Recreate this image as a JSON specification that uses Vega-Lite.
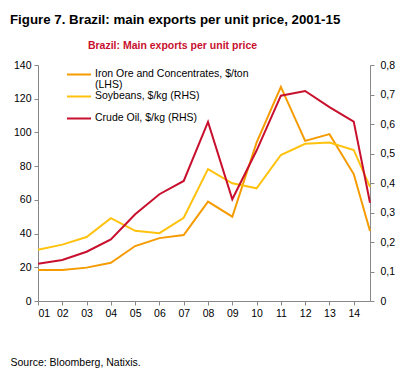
{
  "$schema": "https://vega.github.io/schema/vega-lite/v6.json",
  "width": 332,
  "height": 236,
  "autosize": {"type": "none"},
  "padding": {"left": 38, "top": 65, "right": 40, "bottom": 74},
  "background": "white",
  "config": {"view": {"stroke": null}, "font": "Liberation Sans"},
  "title": {
    "text": "Figure 7. Brazil: main exports per unit price, 2001-15",
    "anchor": "start",
    "frame": "group",
    "dx": -28,
    "fontSize": 13.3,
    "fontWeight": "bold",
    "color": "#000000",
    "offset": 14
  },
  "data": {
    "values": [
      {"year": 1, "series": "Iron Ore and Concentrates, $/ton", "value": 18.4},
      {"year": 2, "series": "Iron Ore and Concentrates, $/ton", "value": 18.4},
      {"year": 3, "series": "Iron Ore and Concentrates, $/ton", "value": 19.8},
      {"year": 4, "series": "Iron Ore and Concentrates, $/ton", "value": 22.7},
      {"year": 5, "series": "Iron Ore and Concentrates, $/ton", "value": 32.6},
      {"year": 6, "series": "Iron Ore and Concentrates, $/ton", "value": 37.3},
      {"year": 7, "series": "Iron Ore and Concentrates, $/ton", "value": 39.1},
      {"year": 8, "series": "Iron Ore and Concentrates, $/ton", "value": 58.9},
      {"year": 9, "series": "Iron Ore and Concentrates, $/ton", "value": 50},
      {"year": 10, "series": "Iron Ore and Concentrates, $/ton", "value": 94},
      {"year": 11, "series": "Iron Ore and Concentrates, $/ton", "value": 127},
      {"year": 12, "series": "Iron Ore and Concentrates, $/ton", "value": 95},
      {"year": 13, "series": "Iron Ore and Concentrates, $/ton", "value": 99},
      {"year": 14, "series": "Iron Ore and Concentrates, $/ton", "value": 75.3},
      {"year": 14.67, "series": "Iron Ore and Concentrates, $/ton", "value": 41.5},
      {"year": 1, "series": "Soybeans, $/kg (RHS)", "value": 0.174},
      {"year": 2, "series": "Soybeans, $/kg (RHS)", "value": 0.191},
      {"year": 3, "series": "Soybeans, $/kg (RHS)", "value": 0.217},
      {"year": 4, "series": "Soybeans, $/kg (RHS)", "value": 0.281},
      {"year": 5, "series": "Soybeans, $/kg (RHS)", "value": 0.238},
      {"year": 6, "series": "Soybeans, $/kg (RHS)", "value": 0.23},
      {"year": 7, "series": "Soybeans, $/kg (RHS)", "value": 0.282},
      {"year": 8, "series": "Soybeans, $/kg (RHS)", "value": 0.447},
      {"year": 9, "series": "Soybeans, $/kg (RHS)", "value": 0.399},
      {"year": 10, "series": "Soybeans, $/kg (RHS)", "value": 0.382},
      {"year": 11, "series": "Soybeans, $/kg (RHS)", "value": 0.495},
      {"year": 12, "series": "Soybeans, $/kg (RHS)", "value": 0.533},
      {"year": 13, "series": "Soybeans, $/kg (RHS)", "value": 0.537},
      {"year": 14, "series": "Soybeans, $/kg (RHS)", "value": 0.512},
      {"year": 14.67, "series": "Soybeans, $/kg (RHS)", "value": 0.387},
      {"year": 1, "series": "Crude Oil, $/kg (RHS)", "value": 0.126},
      {"year": 2, "series": "Crude Oil, $/kg (RHS)", "value": 0.139},
      {"year": 3, "series": "Crude Oil, $/kg (RHS)", "value": 0.167},
      {"year": 4, "series": "Crude Oil, $/kg (RHS)", "value": 0.209},
      {"year": 5, "series": "Crude Oil, $/kg (RHS)", "value": 0.294},
      {"year": 6, "series": "Crude Oil, $/kg (RHS)", "value": 0.362},
      {"year": 7, "series": "Crude Oil, $/kg (RHS)", "value": 0.407},
      {"year": 8, "series": "Crude Oil, $/kg (RHS)", "value": 0.607},
      {"year": 9, "series": "Crude Oil, $/kg (RHS)", "value": 0.345},
      {"year": 10, "series": "Crude Oil, $/kg (RHS)", "value": 0.51},
      {"year": 11, "series": "Crude Oil, $/kg (RHS)", "value": 0.696},
      {"year": 12, "series": "Crude Oil, $/kg (RHS)", "value": 0.712},
      {"year": 13, "series": "Crude Oil, $/kg (RHS)", "value": 0.657},
      {"year": 14, "series": "Crude Oil, $/kg (RHS)", "value": 0.608},
      {"year": 14.67, "series": "Crude Oil, $/kg (RHS)", "value": 0.333}
    ]
  },
  "encoding": {
    "color": {
      "field": "series",
      "type": "nominal",
      "scale": {
        "domain": ["Iron Ore and Concentrates, $/ton", "(LHS)", "Soybeans, $/kg (RHS)", " ", "Crude Oil, $/kg (RHS)"],
        "range": ["#F59B00", "transparent", "#FFC20E", "transparent", "#C8102E"]
      },
      "legend": {
        "title": null,
        "orient": "none",
        "legendX": 28,
        "legendY": 4,
        "symbolType": "stroke",
        "symbolSize": 576,
        "symbolStrokeWidth": 2,
        "labelFontSize": 10.5,
        "labelColor": "#000000",
        "labelOffset": 3,
        "clipHeight": 10.75,
        "rowPadding": 0,
        "labelLimit": 300
      }
    }
  },
  "layer": [
    {
      "transform": [{"filter": "datum.series == 'Iron Ore and Concentrates, $/ton'"}],
      "mark": {"type": "line", "strokeWidth": 2},
      "encoding": {
        "x": {
          "field": "year",
          "type": "quantitative",
          "scale": {"domain": [1, 14.67], "nice": false, "zero": false},
          "axis": {
            "values": [1, 2, 3, 4, 5, 6, 7, 8, 9, 10, 11, 12, 13, 14],
            "format": "02d",
            "grid": false,
            "domainColor": "#888888",
            "tickColor": "#888888",
            "tickSize": 4,
            "labelFontSize": 10.5,
            "labelColor": "#000000",
            "labelPadding": 3,
            "title": "Source: Bloomberg, Natixis.",
            "titleFontWeight": "normal",
            "titleFontSize": 10.5,
            "titleColor": "#000000",
            "titleAnchor": "start",
            "titleAlign": "left",
            "titleX": -28,
            "titleY": 64,
            "titleBaseline": "alphabetic"
          }
        },
        "y": {
          "field": "value",
          "type": "quantitative",
          "scale": {"domain": [0, 140], "nice": false},
          "axis": {
            "orient": "left",
            "values": [0, 20, 40, 60, 80, 100, 120, 140],
            "grid": false,
            "domainColor": "#888888",
            "tickColor": "#888888",
            "tickSize": 4,
            "labelFontSize": 10.5,
            "labelColor": "#000000",
            "labelPadding": 3,
            "title": null
          }
        }
      }
    },
    {
      "transform": [{"filter": "datum.series != 'Iron Ore and Concentrates, $/ton'"}],
      "mark": {"type": "line", "strokeWidth": 2},
      "encoding": {
        "x": {
          "field": "year",
          "type": "quantitative",
          "scale": {"domain": [1, 14.67], "nice": false, "zero": false},
          "axis": {
            "orient": "top",
            "labels": false,
            "ticks": false,
            "domain": false,
            "grid": false,
            "title": "Brazil: Main exports per unit price",
            "titleColor": "#C8102E",
            "titleFontSize": 10.5,
            "titleFontWeight": "bold",
            "titleX": 134,
            "titleY": -17,
            "titleAlign": "center",
            "titleBaseline": "alphabetic"
          }
        },
        "y": {
          "field": "value",
          "type": "quantitative",
          "scale": {"domain": [0, 0.8], "nice": false},
          "axis": {
            "orient": "right",
            "values": [0, 0.1, 0.2, 0.3, 0.4, 0.5, 0.6, 0.7, 0.8],
            "labelExpr": "datum.value == 0 ? '0' : replace(format(datum.value, '.1f'), '.', ',')",
            "grid": false,
            "domainColor": "#888888",
            "tickColor": "#888888",
            "tickSize": 4,
            "labelFontSize": 10.5,
            "labelColor": "#000000",
            "labelPadding": 6,
            "title": null
          }
        }
      }
    }
  ],
  "resolve": {"scale": {"y": "independent"}, "axis": {"x": "independent"}}
}
